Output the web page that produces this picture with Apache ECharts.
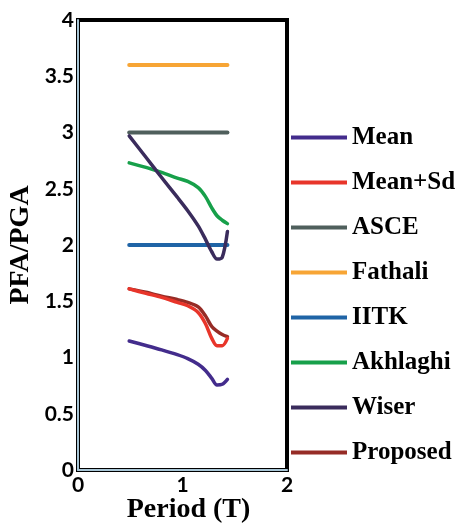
<!DOCTYPE html>
<html>
<head>
<meta charset="utf-8">
<script src="https://cdn.jsdelivr.net/npm/echarts@6/dist/echarts.min.js"></script>
<style>html,body{margin:0;padding:0;background:#fff;}#c{width:457px;height:523px;}</style>
</head>
<body>
<div id="c"></div>
<script>
// Shared sampled periods (T)
const periods  = [0.49, 0.65, 0.8, 0.95, 1.05, 1.15, 1.22, 1.28, 1.33, 1.38, 1.43];
const mean     = [1.147, 1.107, 1.068, 1.025, 0.99, 0.94, 0.885, 0.815, 0.756, 0.762, 0.806];
const meanSd   = [1.61, 1.57, 1.535, 1.49, 1.46, 1.40, 1.30, 1.17, 1.105, 1.105, 1.17];
const wiser    = [2.97, 2.78, 2.60, 2.425, 2.305, 2.17, 2.05, 1.94, 1.875, 1.89, 2.12];
const akhlaghi = [2.73, 2.69, 2.645, 2.595, 2.565, 2.51, 2.43, 2.33, 2.26, 2.22, 2.19];
const proposed = [1.61, 1.58, 1.545, 1.515, 1.49, 1.45, 1.37, 1.275, 1.235, 1.205, 1.185];
// Code-based constant levels
const flatRange = [0.49, 1.43];
const asce = [3.0, 3.0];
const fathali = [3.6, 3.6];
const iitk = [2.0, 2.0];
const seriesNames = ['Mean', 'Mean+Sd', 'ASCE', 'Fathali', 'IITK', 'Akhlaghi', 'Wiser', 'Proposed'];
const xTicks = [0, 1, 2];
const yTicks = [0, 0.5, 1, 1.5, 2, 2.5, 3, 3.5, 4];

const colors = {
  'Mean': '#432c8c', 'Mean+Sd': '#e8352a', 'ASCE': '#4f5f5c', 'Fathali': '#f7a535',
  'IITK': '#1f64a6', 'Akhlaghi': '#17a04a', 'Wiser': '#3a2c5c', 'Proposed': '#962c26'
};
const zip = (xs, ys) => xs.map((x, i) => [x, ys[i]]);
const dataMap = {
  'Mean': zip(periods, mean), 'Mean+Sd': zip(periods, meanSd),
  'ASCE': zip(flatRange, asce), 'Fathali': zip(flatRange, fathali), 'IITK': zip(flatRange, iitk),
  'Akhlaghi': zip(periods, akhlaghi), 'Wiser': zip(periods, wiser), 'Proposed': zip(periods, proposed)
};
const drawOrder = ['Fathali', 'ASCE', 'IITK', 'Akhlaghi', 'Wiser', 'Proposed', 'Mean+Sd', 'Mean'];

const chart = echarts.init(document.getElementById('c'));
chart.setOption({
  animation: false,
  backgroundColor: '#fff',
  grid: { left: 78, right: 170, top: 20, bottom: 53, show: true, borderColor: '#000', borderWidth: 4, backgroundColor: 'transparent', outerBoundsMode: 'none', containLabel: false },
  xAxis: {
    type: 'value', min: xTicks[0], max: xTicks[xTicks.length - 1], interval: 1,
    name: 'Period (T)', nameLocation: 'middle', nameGap: 26, nameMoveOverlap: false,
    nameTextStyle: { fontFamily: 'Liberation Serif', fontWeight: 'bold', fontSize: 28, color: '#000', padding: [0, 0, 0, 12] },
    axisLine: { show: true, lineStyle: { color: '#a8c6d6', width: 2 } },
    axisTick: { show: false }, splitLine: { show: false },
    axisLabel: { fontFamily: 'Lato', fontWeight: 'bold', fontSize: 21, color: '#000', margin: 5 }
  },
  yAxis: {
    type: 'value', min: yTicks[0], max: yTicks[yTicks.length - 1], interval: 0.5,
    name: 'PFA/PGA', nameLocation: 'middle', nameGap: 43, nameMoveOverlap: false,
    nameTextStyle: { fontFamily: 'Liberation Serif', fontWeight: 'bold', fontSize: 28, color: '#000' },
    axisLine: { show: true, lineStyle: { color: '#a8c6d6', width: 2 } },
    axisTick: { show: false }, splitLine: { show: false },
    axisLabel: { fontFamily: 'Lato', fontWeight: 'bold', fontSize: 21, color: '#000', margin: 4 }
  },
  legend: {
    orient: 'vertical', left: 286, top: 120, itemGap: 20, itemWidth: 56, itemHeight: 4,
    icon: 'rect', data: seriesNames,
    textStyle: { fontFamily: 'Liberation Serif', fontWeight: 'bold', fontSize: 25, color: '#000' }
  },
  series: drawOrder.map(n => ({
    name: n, type: 'line', data: dataMap[n], smooth: 0.3, showSymbol: false,
    color: colors[n],
    lineStyle: { color: colors[n], width: (n === 'Fathali' || n === 'ASCE' || n === 'IITK') ? 4 : 3.5, cap: 'round', join: 'round' }
  }))
});
</script>
</body>
</html>
